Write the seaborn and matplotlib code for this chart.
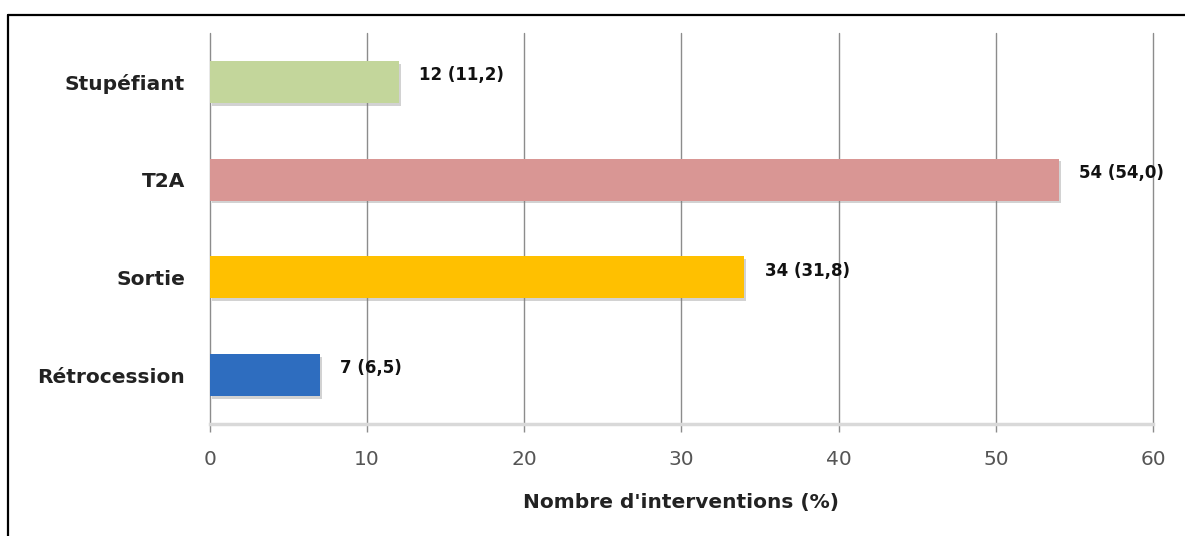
import matplotlib
matplotlib.use("Agg")
import matplotlib.pyplot as plt
from matplotlib.lines import Line2D
import matplotlib.patheffects as pe
import seaborn as sns
import pandas as pd

# Interventions by type: count and share (%)
categories = ["Stupéfiant", "T2A", "Sortie", "Rétrocession"]
counts = [12, 54, 34, 7]
percents = [11.2, 54.0, 31.8, 6.5]
bar_colors = ["#C3D69B", "#D99694", "#FFC000", "#2E6DBF"]
x_ticks = [0, 10, 20, 30, 40, 50, 60]
x_label = "Nombre d'interventions (%)"

sns.set_style("white")
plt.rcParams["font.family"] = ["DejaVu Sans"]

df = pd.DataFrame({"categorie": categories, "n": counts})

fig = plt.figure(figsize=(11.85, 5.36), dpi=100)
ax = fig.add_axes([0.1772, 0.209, 0.7958, 0.7294])

sns.barplot(data=df, x="n", y="categorie", hue="categorie", order=categories,
            hue_order=categories, palette=bar_colors, saturation=1,
            legend=False, width=0.43, orient="h", ax=ax, zorder=3)

shadow = [pe.SimplePatchShadow(offset=(1.5, -2), shadow_rgbFace="#808080", alpha=0.35),
          pe.Normal()]
for patch in ax.patches:
    patch.set_linewidth(0)
    patch.set_path_effects(shadow)

# value labels: "count (percent)" with a decimal comma
for i, (n, p) in enumerate(zip(counts, percents)):
    txt = f"{n} ({p:.1f})".replace(".", ",")
    ax.text(n + 1.3, i - 0.07, txt, ha="left", va="center",
            fontsize=12, fontweight="bold", color="#111111", zorder=5)

ax.set_xlim(0, 60)
ax.set_ylim(3.5, -0.5)
ax.set_xticks(x_ticks)
ax.set_xticklabels([str(t) for t in x_ticks])

ax.xaxis.grid(True, color="#8C8C8C", linewidth=1.0)
ax.yaxis.grid(False)
ax.set_axisbelow(True)
for gl in ax.get_xgridlines():
    gl.set_clip_on(False)

for side in ["top", "right", "left"]:
    ax.spines[side].set_visible(False)
ax.spines["bottom"].set_color("#D9D9D9")
ax.spines["bottom"].set_linewidth(2.5)

ax.tick_params(axis="x", which="both", bottom=True, length=6, width=1,
               color="#8C8C8C", pad=13, labelsize=14.5, labelcolor="#555555")
ax.tick_params(axis="y", length=0, pad=18, labelsize=14.5)
for lbl in ax.get_yticklabels():
    lbl.set_fontweight("bold")
    lbl.set_color("#222222")

ax.set_ylabel("")
ax.set_xlabel(x_label, fontsize=14.5, fontweight="bold", color="#222222", labelpad=17)

# frame around the chart (top and left edges)
fig.add_artist(Line2D([8 / 1185, 1.0], [1 - 15 / 536, 1 - 15 / 536],
                      transform=fig.transFigure, color="black", linewidth=1.6))
fig.add_artist(Line2D([8 / 1185, 8 / 1185], [0.0, 1 - 15 / 536],
                      transform=fig.transFigure, color="black", linewidth=1.6))

fig.savefig("out.png", dpi=100, facecolor="white")
